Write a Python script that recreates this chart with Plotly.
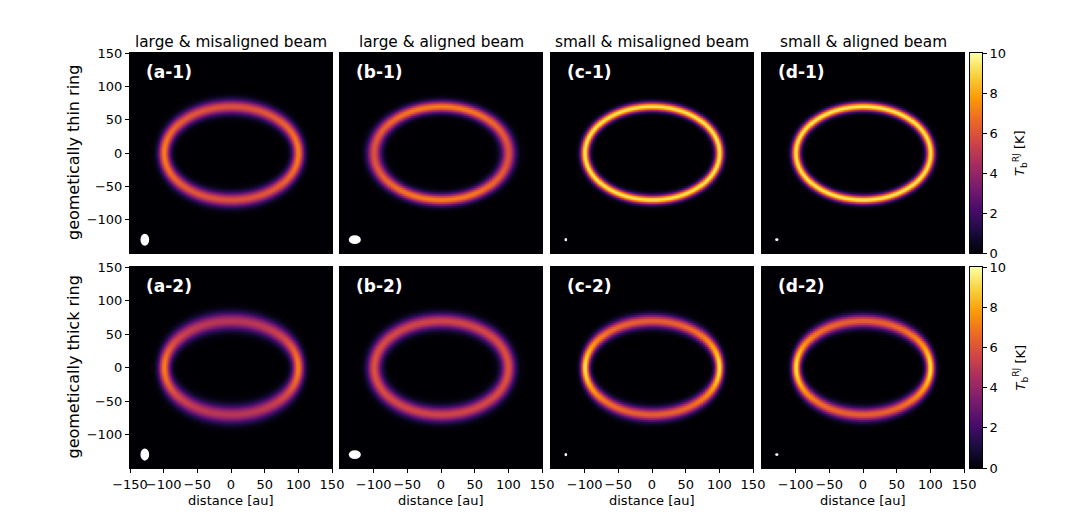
import numpy as np
import plotly.graph_objects as go

# ---------------- data ----------------
column_titles = ["large & misaligned beam", "large & aligned beam",
                 "small & misaligned beam", "small & aligned beam"]
row_titles = ["geometically thin ring", "geometically thick ring"]
panel_letters = ["a", "b", "c", "d"]
beam_fwhm_x_au = [9.5, 13.5, 2.5, 3.0]   # convolving beam FWHM along x per column
beam_fwhm_y_au = [13.5, 9.5, 3.0, 2.5]   # convolving beam FWHM along y per column
beam_marker_x_au = [13, 18, 4, 5]        # drawn beam ellipse size (x)
beam_marker_y_au = [18, 13, 5, 4]        # drawn beam ellipse size (y)
beam_center_x_au = -128
beam_center_y_au = -130
ring_semi_major_au = 100
ring_semi_minor_au = 70
ring_peak_K = 9.6
ring_sigma_au = [4.5, 4.5]               # thin row, thick row
vertical_blur_au = [0.0, 5.0]            # extra smearing along minor axis
x_tickvals_first = [-150, -100, -50, 0, 50, 100, 150]
x_tickvals_other = [-100, -50, 0, 50, 100, 150]
y_tickvals = [-100, -50, 0, 50, 100, 150]
cbar_tickvals = [0, 2, 4, 6, 8, 10]
T_min, T_max = 0, 10
axis_range = [-150, 150]

# ---------------- build images ----------------
step = 1.0
coords = np.arange(axis_range[0], axis_range[1] + step / 2, step)
X, Y = np.meshgrid(coords, coords)
A, B = ring_semi_major_au, ring_semi_minor_au
rho = np.hypot(X / A, Y / B)
safe_rho = np.where(rho > 0.05, rho, 1.0)
grad = np.hypot(X / A**2, Y / B**2) / safe_rho
dist = np.where(rho > 0.05, (rho - 1) / np.maximum(grad, 1e-12), -A)


def gauss_kernel(sig):
    if sig <= 0:
        return np.array([1.0])
    half = int(np.ceil(4 * sig / step))
    t = np.arange(-half, half + 1) * step
    k = np.exp(-t**2 / (2 * sig**2))
    return k / k.sum()


def blur(img, sx, sy):
    kx = gauss_kernel(sx)
    ky = gauss_kernel(sy)
    img = np.apply_along_axis(lambda r: np.convolve(r, kx, mode="same"), 1, img)
    img = np.apply_along_axis(lambda c: np.convolve(c, ky, mode="same"), 0, img)
    return img


FW = 2 * np.sqrt(2 * np.log(2))
images = []
for r in range(2):
    base = ring_peak_K * np.exp(-dist**2 / (2 * ring_sigma_au[r]**2))
    row_imgs = []
    for c in range(4):
        sx = beam_fwhm_x_au[c] / FW
        sy = np.hypot(beam_fwhm_y_au[c] / FW, vertical_blur_au[r])
        row_imgs.append(blur(base, sx, sy).astype(np.float32))
    images.append(row_imgs)

cbar_levels = np.linspace(T_min, T_max, 256)

# ---------------- layout geometry (window pixels) ----------------
PAGE_OFFSET = 8            # default body margin of the html page
W, H = 1090 - PAGE_OFFSET, 521 - PAGE_OFFSET
col_px = [(130, 332), (340, 542), (551, 753), (762, 964)]
row_px = [(53, 253), (267, 468)]
cbar_px = (970, 982)


def px_x(p):
    return (p - PAGE_OFFSET) / W


def px_y(p):
    return 1 - (p - PAGE_OFFSET) / H


def fmt(v):
    return ("\u2212" + str(-v)) if v < 0 else str(v)


FONT = "DejaVu Sans"
TICKFONT = dict(family=FONT, size=13, color="black")
fig = go.Figure()
annotations = []
shapes = []
layout_axes = {}

for r in range(2):
    for c in range(4):
        k = r * 4 + c + 1
        xa = "x" if k == 1 else f"x{k}"
        ya = "y" if k == 1 else f"y{k}"
        fig.add_trace(go.Heatmap(
            x=coords, y=coords, z=images[r][c],
            zmin=T_min, zmax=T_max, colorscale="Inferno",
            zsmooth="best", xaxis=xa, yaxis=ya,
            showscale=False, hoverinfo="skip",
        ))
        xkey = "xaxis" if k == 1 else f"xaxis{k}"
        ykey = "yaxis" if k == 1 else f"yaxis{k}"
        bottom = (r == 1)
        left = (c == 0)
        xt = x_tickvals_first if c == 0 else x_tickvals_other
        layout_axes[xkey] = dict(
            domain=[px_x(col_px[c][0]), px_x(col_px[c][1])],
            anchor=ya, range=axis_range, showgrid=False, zeroline=False,
            showline=True, mirror=True, linecolor="black", linewidth=1,
            tickvals=xt, ticktext=[fmt(v) for v in xt], tickangle=0,
            ticks="outside" if bottom else "", ticklen=4, tickwidth=1,
            tickcolor="black", showticklabels=bottom, tickfont=TICKFONT,
            automargin=False,
        )
        layout_axes[ykey] = dict(
            domain=[px_y(row_px[r][1]), px_y(row_px[r][0])],
            anchor=xa, range=axis_range, showgrid=False, zeroline=False,
            showline=True, mirror=True, linecolor="black", linewidth=1,
            tickvals=y_tickvals, ticktext=[fmt(v) for v in y_tickvals],
            ticks="outside" if left else "", ticklen=4, tickwidth=1,
            tickcolor="black", showticklabels=left, tickfont=TICKFONT,
            automargin=False,
        )
        annotations.append(dict(
            text=f"<b>({panel_letters[c]}-{r + 1})</b>", xref=xa, yref=ya,
            x=-129, y=121, xanchor="left", yanchor="middle", showarrow=False,
            font=dict(family=FONT, size=17, color="white"),
        ))
        shapes.append(dict(
            type="circle", xref=xa, yref=ya,
            x0=beam_center_x_au - beam_marker_x_au[c] / 2,
            x1=beam_center_x_au + beam_marker_x_au[c] / 2,
            y0=beam_center_y_au - beam_marker_y_au[c] / 2,
            y1=beam_center_y_au + beam_marker_y_au[c] / 2,
            fillcolor="white", line=dict(width=0), layer="above",
        ))

# hand-built colorbars (one per row)
for r in range(2):
    k = 9 + r
    xa, ya = f"x{k}", f"y{k}"
    fig.add_trace(go.Heatmap(
        x=[0], y=cbar_levels, z=cbar_levels.reshape(-1, 1),
        zmin=T_min, zmax=T_max, colorscale="Inferno", zsmooth="best",
        xaxis=xa, yaxis=ya, showscale=False, hoverinfo="skip",
    ))
    layout_axes[f"xaxis{k}"] = dict(
        domain=[px_x(cbar_px[0]), px_x(cbar_px[1])], anchor=ya,
        range=[-0.5, 0.5], showgrid=False, zeroline=False,
        showline=True, mirror=True, linecolor="black", linewidth=1,
        showticklabels=False, ticks="", automargin=False,
    )
    layout_axes[f"yaxis{k}"] = dict(
        domain=[px_y(row_px[r][1]), px_y(row_px[r][0])], anchor=xa,
        side="right", range=[T_min, T_max], showgrid=False, zeroline=False,
        showline=True, mirror=True, linecolor="black", linewidth=1,
        tickvals=cbar_tickvals, ticktext=[fmt(v) for v in cbar_tickvals],
        ticks="outside", ticklen=4, tickwidth=1, tickcolor="black",
        tickfont=TICKFONT, automargin=False,
    )

# column titles and x-axis labels
for c in range(4):
    xc = px_x((col_px[c][0] + col_px[c][1]) / 2)
    annotations.append(dict(
        text=column_titles[c], xref="paper", yref="paper", x=xc, y=px_y(42),
        xanchor="center", yanchor="middle", showarrow=False,
        font=dict(family=FONT, size=15.3, color="black")))
    annotations.append(dict(
        text="distance [au]", xref="paper", yref="paper", x=xc, y=px_y(500),
        xanchor="center", yanchor="middle", showarrow=False,
        font=dict(family=FONT, size=13, color="black")))

# row titles and colorbar titles
for r in range(2):
    yc = px_y((row_px[r][0] + row_px[r][1]) / 2)
    annotations.append(dict(
        text=row_titles[r], xref="paper", yref="paper", x=px_x(73), y=yc,
        xanchor="center", yanchor="middle", showarrow=False, textangle=-90,
        font=dict(family=FONT, size=16, color="black")))
    annotations.append(dict(
        text="<i>T</i><sub>b</sub><sup>RJ</sup> [K]", xref="paper", yref="paper",
        x=px_x(1020), y=yc, xanchor="center", yanchor="middle",
        showarrow=False, textangle=-90,
        font=dict(family=FONT, size=13, color="black")))

fig.update_layout(
    width=W, height=H, margin=dict(l=0, r=0, t=0, b=0, autoexpand=False),
    paper_bgcolor="white", plot_bgcolor="black",
    annotations=annotations, shapes=shapes, showlegend=False,
    **layout_axes,
)

fig.write_html("out.html", config={"displayModeBar": False})
